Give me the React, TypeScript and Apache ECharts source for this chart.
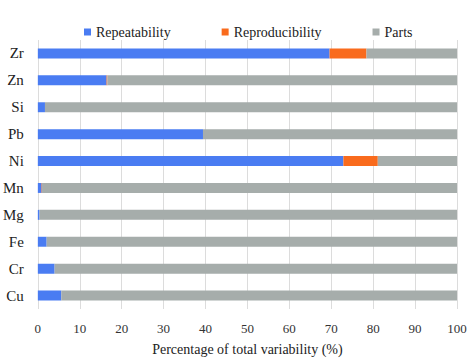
import React, { useEffect, useRef } from "react";
import * as echarts from "echarts";

const categories = ["Cu", "Cr", "Fe", "Mg", "Mn", "Ni", "Pb", "Si", "Zn", "Zr"];
const repeatability = [5.6, 4.0, 2.1, 0.4, 0.9, 72.9, 39.4, 1.7, 16.4, 69.6];
const reproducibility = [0, 0, 0, 0, 0.1, 8.2, 0, 0, 0.2, 8.8];
const parts = repeatability.map((r, i) => +(100 - r - reproducibility[i]).toFixed(1));
const xTicks = [0, 10, 20, 30, 40, 50, 60, 70, 80, 90, 100];

const FONT = "Liberation Serif";

export default function App() {
  const ref = useRef<HTMLDivElement>(null);
  useEffect(() => {
    if (!ref.current) return;
    const chart = echarts.init(ref.current, undefined, { renderer: "svg" });
    chart.setOption({
      animation: false,
      textStyle: { fontFamily: FONT },
      legend: {
        left: 79,
        top: 20,
        itemWidth: 7,
        itemHeight: 7,
        itemGap: 51,
        icon: "rect",
        textStyle: { fontFamily: FONT, fontSize: 14, color: "#222" },
        data: ["Repeatability", "Reproducibility", "Parts"],
      },
      grid: { left: 37, right: 17, top: 40, bottom: 49, containLabel: false },
      xAxis: {
        type: "value",
        min: xTicks[0],
        max: xTicks[xTicks.length - 1],
        interval: 10,
        axisLine: { show: false },
        axisTick: { show: false },
        splitLine: { show: true, lineStyle: { color: "#dcdcdc", width: 1 } },
        axisLabel: { fontFamily: FONT, fontSize: 13, color: "#333", margin: 13 },
        name: "Percentage of total variability (%)",
        nameLocation: "middle",
        nameGap: 33,
        nameTextStyle: { fontFamily: FONT, fontSize: 14, color: "#222" },
      },
      yAxis: {
        type: "category",
        data: categories,
        axisLine: { show: false },
        axisTick: { show: false },
        splitLine: { show: false },
        axisLabel: { fontFamily: FONT, fontSize: 15, color: "#222", margin: 14 },
      },
      series: [
        {
          name: "Repeatability",
          type: "bar",
          stack: "total",
          data: repeatability,
          barCategoryGap: "63%",
          itemStyle: { color: "#4a7cf2" },
        },
        {
          name: "Reproducibility",
          type: "bar",
          stack: "total",
          data: reproducibility,
          itemStyle: { color: "#f96b1d" },
        },
        {
          name: "Parts",
          type: "bar",
          stack: "total",
          data: parts,
          itemStyle: { color: "#a6adab" },
        },
      ],
    });
    return () => chart.dispose();
  }, []);
  return <div ref={ref} style={{ width: 474, height: 361, position: "absolute", left: 0, top: 0 }} />;
}
